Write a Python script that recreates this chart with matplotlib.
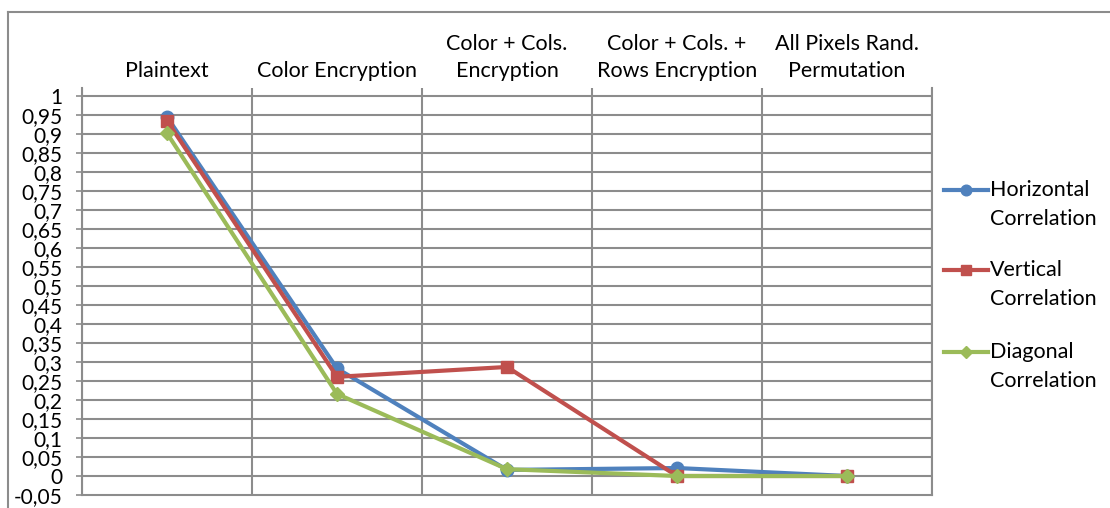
import matplotlib
matplotlib.use("Agg")
import matplotlib.pyplot as plt
from matplotlib.lines import Line2D
import numpy as np

categories = ["Plaintext", "Color Encryption", "Color + Cols.\nEncryption",
              "Color + Cols. +\nRows Encryption", "All Pixels Rand.\nPermutation"]
horizontal = [0.945, 0.283, 0.016, 0.021, 0.0]
vertical = [0.935, 0.261, 0.287, 0.0, 0.0]
diagonal = [0.902, 0.216, 0.018, 0.0, 0.0]
series_names = ["Horizontal\nCorrelation", "Vertical\nCorrelation", "Diagonal\nCorrelation"]
yticks = [round(-0.05 + 0.05 * i, 2) for i in range(22)]
ytick_labels = [("%g" % v).replace(".", ",") for v in yticks]

plt.rcParams['font.family'] = ['Lato', 'DejaVu Sans']
GRID = "#8c8c8c"
colors = ["#4F81BD", "#C0504D", "#9BBB59"]
markers = ["o", "s", "D"]
msizes = [9, 8.5, 7]

fig = plt.figure(figsize=(11.10, 5.08), dpi=100)
ax = fig.add_axes([82/1110, 1 - 495/508, (932-82)/1110, (495-88)/508])

x = np.arange(len(categories))
for i, vals in enumerate([horizontal, vertical, diagonal]):
    ax.plot(x, vals, color=colors[i], lw=3, marker=markers[i], ms=msizes[i],
            label=series_names[i], zorder=3 + i)

ax.set_xlim(-0.5, len(categories) - 0.5)
ax.set_ylim(-0.05, 1.0 + 8/378)
ax.set_yticks(yticks)
ax.set_yticklabels(ytick_labels, fontsize=15)
ax.tick_params(axis='y', length=4, width=1.2, color=GRID, pad=10)

ax.xaxis.tick_top()
ax.set_xticks(x)
ax.set_xticklabels(categories, fontsize=15.5, linespacing=1.45)
ax.tick_params(axis='x', which='major', length=0, pad=5)
ax.set_xticks(np.arange(-0.5, len(categories)), minor=True)
ax.tick_params(axis='x', which='minor', length=0)
ax.grid(True, which='minor', axis='x', color=GRID, lw=1.5)
for v in yticks:
    if v > -0.05:
        ax.axhline(v, color=GRID, lw=1.5, zorder=1)
ax.spines["top"].set_visible(False)
for s in ["left", "right", "bottom"]:
    ax.spines[s].set_color(GRID)
    ax.spines[s].set_linewidth(1.5)

# legend (manual, Excel style: marker aligned with first text line)
leg_y = [190, 270, 352]
for i, name in enumerate(series_names):
    yf = 1 - leg_y[i] / 508
    fig.add_artist(Line2D([944/1110, 988/1110], [yf, yf], color=colors[i], lw=3))
    fig.add_artist(Line2D([966/1110], [yf], color=colors[i], marker=markers[i],
                          ms=msizes[i] * 0.85, lw=0))
    first, second = name.split("\n")
    fig.text(990/1110, yf, first, fontsize=15.5, va="center", ha="left")
    fig.text(990/1110, yf - 29/508, second, fontsize=15.5, va="center", ha="left")

fig.add_artist(Line2D([8/1110, 1], [1 - 12/508, 1 - 12/508], color=GRID, lw=1.5))
fig.add_artist(Line2D([8/1110, 8/1110], [0, 1 - 12/508], color=GRID, lw=1.5))

fig.savefig("out.png", dpi=100)
